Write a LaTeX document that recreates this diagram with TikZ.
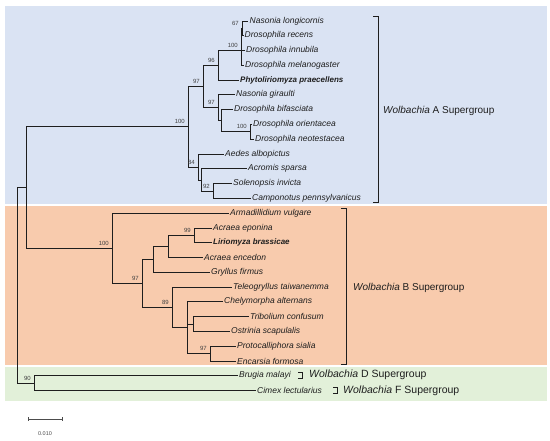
\documentclass[tikz,border=0pt]{standalone}
\usepackage{fontspec}
\setmainfont{Liberation Sans}
\definecolor{bgA}{HTML}{DAE3F3}
\definecolor{bgB}{HTML}{F8CBAD}
\definecolor{bgD}{HTML}{E2F0D9}
\definecolor{ink}{HTML}{1E1E1E}
\begin{document}
\begin{tikzpicture}[x=1pt,y=-1pt,
  br/.style={line width=1.6pt, draw=ink},
  brk/.style={line width=1.4pt, draw=ink},
  leaf/.style={anchor=west, inner xsep=1.5pt, inner ysep=0pt, font=\fontsize{8.5}{10}\selectfont\itshape, text=ink},
  leafb/.style={leaf, font=\fontsize{8}{10}\selectfont\bfseries\itshape},
  bs/.style={anchor=south east, inner sep=0pt, xshift=-3.5pt, yshift=3pt, font=\fontsize{6}{7}\selectfont, text=black!75},
  sg/.style={anchor=west, inner sep=0pt, font=\fontsize{10}{12}\selectfont, text=ink},
  sgs/.style={sg, font=\fontsize{10.5}{12}\selectfont}
]
\useasboundingbox (0,0) rectangle (550,441);
% backgrounds
\fill[bgA] (5,6) rectangle (547,204.5);
\fill[bgB] (5,206) rectangle (547,365.5);
\fill[bgD] (5,367.5) rectangle (547,401);

% leaves
\node[leaf]  (NL) at (248,21.5)  {Nasonia longicornis};
\node[leaf]  (DR) at (243,35.5)  {Drosophila recens};
\node[leaf]  (DI) at (244.5,50.5) {Drosophila innubila};
\node[leaf]  (DM) at (243.5,65.5) {Drosophila melanogaster};
\node[leafb] (PP) at (238.5,80.5) {Phytoliriomyza praecellens};
\node[leaf]  (NG) at (234.5,94.5) {Nasonia giraulti};
\node[leaf]  (DB) at (232.5,109.5) {Drosophila bifasciata};
\node[leaf]  (DO) at (251.5,124.5) {Drosophila orientacea};
\node[leaf]  (DN) at (253.5,139.5) {Drosophila neotestacea};
\node[leaf]  (AA) at (223.5,154.5) {Aedes albopictus};
\node[leaf]  (AS) at (246.5,168.5) {Acromis sparsa};
\node[leaf]  (SI) at (231.5,183.5) {Solenopsis invicta};
\node[leaf]  (CP) at (250.5,198.5) {Camponotus pennsylvanicus};
\node[leaf]  (AV) at (228.5,213.5) {Armadillidium vulgare};
\node[leaf]  (AE) at (211.5,228.5) {Acraea eponina};
\node[leafb] (LB) at (211.5,242.5) {Liriomyza brassicae};
\node[leaf]  (AN) at (202.5,257.5) {Acraea encedon};
\node[leaf]  (GF) at (209.5,272.5) {Gryllus firmus};
\node[leaf]  (TT) at (231.5,287.5) {Teleogryllus taiwanemma};
\node[leaf]  (CA) at (222.5,301.5) {Chelymorpha alternans};
\node[leaf]  (TC) at (248.5,316.5) {Tribolium confusum};
\node[leaf]  (OS) at (229.5,331.5) {Ostrinia scapulalis};
\node[leaf]  (PS) at (235.5,346.5) {Protocalliphora sialia};
\node[leaf]  (EF) at (235.5,361.5) {Encarsia formosa};
\node[leaf]  (BM) at (237.5,375.5) {Brugia malayi};
\node[leaf]  (CL) at (255.5,390.5) {Cimex lectularius};

% internal nodes
\coordinate (root) at (17.5,285.5);
\coordinate (ab)   at (26.5,187.5);
\coordinate (A)    at (188.5,126.5);
\coordinate (a97)  at (203.5,86.5);
\coordinate (a96)  at (218.5,65.5);
\coordinate (a100) at (241.5,50.5);
\coordinate (a67)  at (242.5,28.5);
\coordinate (a97b) at (218.5,107.5);
\coordinate (adb)  at (221.5,120.5);
\coordinate (a100c) at (250.5,131.5);
\coordinate (a84)  at (198.5,167.5);
\coordinate (ax)   at (201.5,180.5);
\coordinate (a92)  at (213.5,191.5);
\coordinate (B)    at (112.5,248.5);
\coordinate (b97)  at (142.5,283.5);
\coordinate (bg)   at (153.5,259.5);
\coordinate (bae)  at (168.5,246.5);
\coordinate (b99)  at (194.5,235.5);
\coordinate (b89)  at (172.5,307.5);
\coordinate (bc)   at (187.5,327.5);
\coordinate (bto)  at (193.5,324.5);
\coordinate (b97p) at (210.5,353.5);
\coordinate (df)   at (34.5,383.5);

% branches
\draw[br] (root) |- (ab);
\draw[br] (root) |- (df);
\draw[br] (ab) |- (A);
\draw[br] (ab) |- (B);
\draw[br] (A) |- (a97);
\draw[br] (A) |- (a84);
\draw[br] (a97) |- (a96);
\draw[br] (a97) |- (a97b);
\draw[br] (a96) |- (a100);
\draw[br] (a96) |- (PP.west);
\draw[br] (a100) |- (a67);
\draw[br] (a100) |- (DI.west);
\draw[br] (a100) |- (DM.west);
\draw[br] (a67) |- (NL.west);
\draw[br] (a67) |- (DR.west);
\draw[br] (a97b) |- (NG.west);
\draw[br] (a97b) |- (adb);
\draw[br] (adb) |- (DB.west);
\draw[br] (adb) |- (a100c);
\draw[br] (a100c) |- (DO.west);
\draw[br] (a100c) |- (DN.west);
\draw[br] (a84) |- (AA.west);
\draw[br] (a84) |- (ax);
\draw[br] (ax) |- (AS.west);
\draw[br] (ax) |- (a92);
\draw[br] (a92) |- (SI.west);
\draw[br] (a92) |- (CP.west);
\draw[br] (B) |- (AV.west);
\draw[br] (B) |- (b97);
\draw[br] (b97) |- (bg);
\draw[br] (b97) |- (b89);
\draw[br] (bg) |- (bae);
\draw[br] (bg) |- (GF.west);
\draw[br] (bae) |- (b99);
\draw[br] (bae) |- (AN.west);
\draw[br] (b99) |- (AE.west);
\draw[br] (b99) |- (LB.west);
\draw[br] (b89) |- (TT.west);
\draw[br] (b89) |- (bc);
\draw[br] (bc) |- (CA.west);
\draw[br] (bc) |- (bto);
\draw[br] (bc) |- (b97p);
\draw[br] (bto) |- (TC.west);
\draw[br] (bto) |- (OS.west);
\draw[br] (b97p) |- (PS.west);
\draw[br] (b97p) |- (EF.west);
\draw[br] (df) |- (BM.west);
\draw[br] (df) |- (CL.west);

% bootstrap values
\node[bs] (lA)    at (A)    {100};
\node[bs] (la97)  at (a97)  {97};
\node[bs] (la96)  at (a96)  {96};
\node[bs] (la100) at (a100) {100};
\node[bs] (la67)  at (a67)  {67};
\node[bs] (la97b) at (a97b) {97};
\node[bs] (la100c) at (a100c) {100};
\node[bs] (la84)  at (a84)  {84};
\node[bs] (la92)  at (a92)  {92};
\node[bs] (lB)    at (B)    {100};
\node[bs] (lb97)  at (b97)  {97};
\node[bs] (lb99)  at (b99)  {99};
\node[bs] (lb89)  at (b89)  {89};
\node[bs] (lb97p) at (b97p) {97};
\node[bs] (ldf)   at (df)   {90};

% supergroup brackets
\draw[brk] (373,16.5) -- (378.5,16.5) -- (378.5,202.5) -- (373,202.5);
\node[sg] (gA) at (383,111) {\textit{Wolbachia} A Supergroup};
\draw[brk] (341,208.5) -- (346.5,208.5) -- (346.5,364.5) -- (341,364.5);
\node[sg] (gB) at (353,288) {\textit{Wolbachia} B Supergroup};
\draw[brk] (298,372.5) -- (302.5,372.5) -- (302.5,378.5) -- (298,378.5);
\node[sgs] (gD) at (309,375) {\textit{Wolbachia} D Supergroup};
\draw[brk] (333,387.5) -- (337.5,387.5) -- (337.5,393.5) -- (333,393.5);
\node[sgs] (gF) at (343,391) {\textit{Wolbachia} F Supergroup};

% scale bar
\coordinate (s1) at (28,419.5);
\coordinate (s2) at (62,419.5);
\draw[line width=1.2pt, draw=black!70] (s1) -- (s2);
\draw[line width=1pt, draw=black!70] ([yshift=2pt]s1) -- ([yshift=-2pt]s1);
\draw[line width=1pt, draw=black!70] ([yshift=2pt]s2) -- ([yshift=-2pt]s2);
\node[inner sep=0pt, font=\fontsize{5.5}{6}\selectfont, text=black!70] (sl) at (45,434) {0.010};
\end{tikzpicture}
\end{document}
